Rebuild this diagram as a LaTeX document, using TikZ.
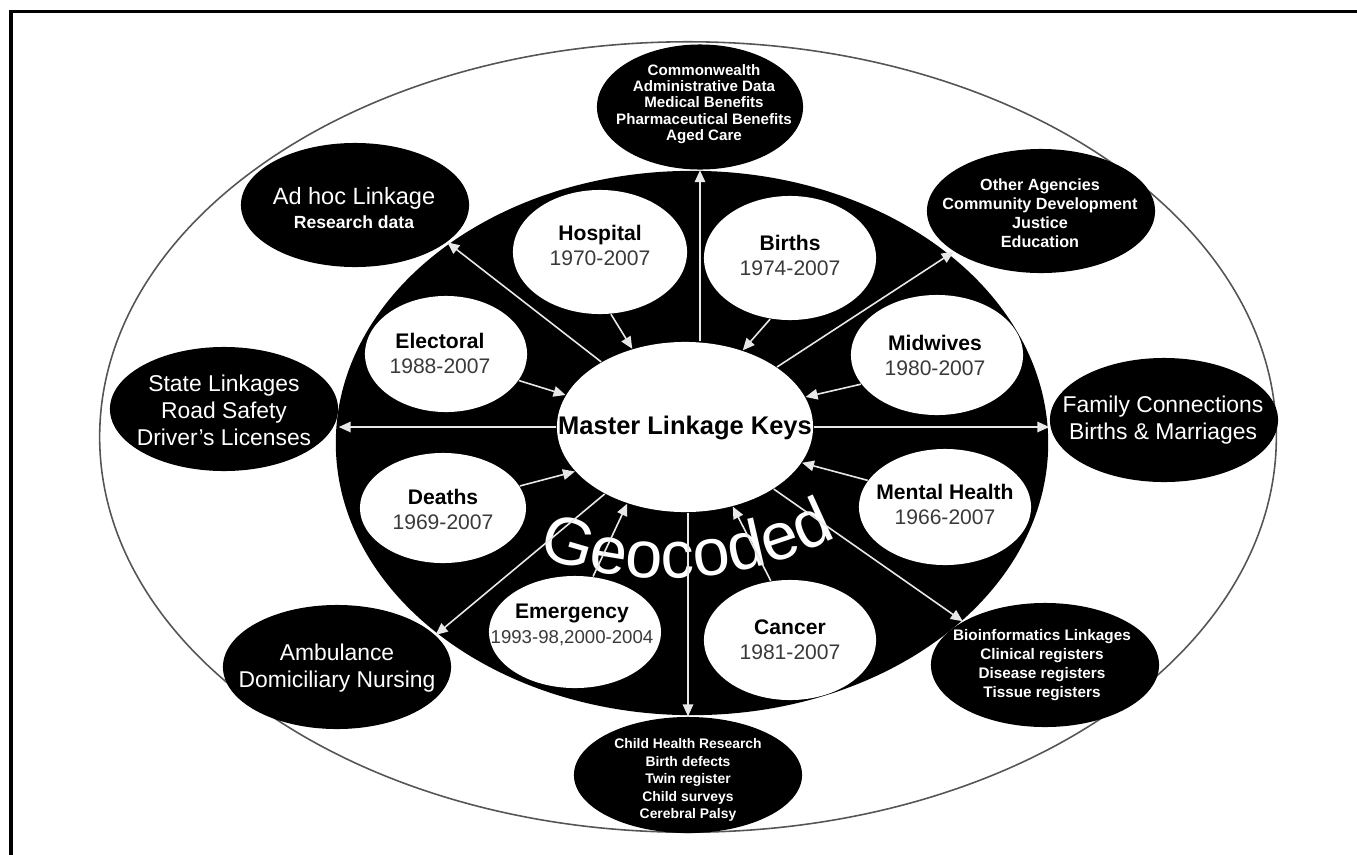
\documentclass[tikz,border=0pt]{standalone}
\usepackage{fontspec}
\setmainfont{Liberation Sans}
\usepackage{xcolor}
\usetikzlibrary{arrows.meta,positioning,calc,shapes.geometric,decorations.text}
\definecolor{yeargray}{HTML}{3A3A3A}
\definecolor{linkgray}{HTML}{E8E8E8}
\definecolor{ringgray}{HTML}{555555}

\begin{document}
\begin{tikzpicture}[x=0.01cm,y=-0.01cm,>=Latex,
  srcbox/.style={ellipse,fill=white,inner sep=0pt,minimum width=1.72cm,minimum height=1.2cm},
  dstbox/.style={ellipse,fill=black,inner sep=0pt,minimum width=2.28cm,minimum height=1.24cm},
  srctxt/.style={align=center,inner sep=0pt,font=\fontsize{6}{7.1}\selectfont},
  dsttxt/.style={align=center,inner sep=0pt,text=white},
  bigtxt/.style={dsttxt,font=\fontsize{6.5}{7.7}\selectfont},
  link/.style={draw=linkgray,line width=0.45pt,-{Triangle[length=3.4pt,width=3pt]}}]
\useasboundingbox (0,0) rectangle (1357,854);
\draw[line width=0.03cm] (11,860) -- (11,11) -- (1362,11);

\node[ellipse,draw=ringgray,line width=0.45pt,inner sep=0pt,minimum width=11.76cm,minimum height=7.9cm] (ring) at (688,437) {};
\node[ellipse,fill=black,inner sep=0pt,minimum width=7.12cm,minimum height=5.44cm] (hub) at (692,443) {};

\node[dstbox,minimum width=2.06cm,minimum height=1.25cm] (cw) at (700,107) {};
\node[dstbox] (adhoc) at (355,205) {};
\node[dstbox] (oa) at (1041,211) {};
\node[dstbox] (state) at (224,409) {};
\node[dstbox] (fam) at (1164,420) {};
\node[dstbox] (amb) at (337,667) {};
\node[dstbox,minimum height=1.16cm] (child) at (688,775) {};
\node[dstbox] (bio) at (1045,665) {};

\node[srcbox,minimum width=1.74cm,minimum height=1.24cm] (hosp) at (600,252) {};
\node[srcbox,minimum height=1.24cm] (births) at (790,258) {};
\node[srcbox,minimum width=1.62cm,minimum height=1.16cm] (elect) at (446,354) {};
\node[srcbox] (midw) at (937,355) {};
\node[srcbox,minimum width=1.66cm,minimum height=1.1cm] (deaths) at (443,508) {};
\node[srcbox,minimum height=1.16cm] (mental) at (945,507) {};
\node[srcbox,minimum height=1.12cm] (emerg) at (575,632) {};
\node[srcbox] (cancer) at (790,640) {};
\node[ellipse,fill=white,inner sep=0pt,minimum width=2.56cm,minimum height=1.7cm] (master) at (685,427) {};

\path[decorate,decoration={text along path,text align=center,
  text={|\fontsize{19}{19}\selectfont\color{white}|Geocoded}}]
  (667,207) ++(247:3.71cm) arc[start angle=247,end angle=300,radius=3.71cm];

\draw[link] (master.north -| cw) -- (cw.south);
\draw[link] (master) -- (adhoc.-22);
\draw[link] (master) -- (oa.205);
\draw[link] (master.west) -- (master.west -| state.east);
\draw[link] (master.east) -- (master.east -| fam.west);
\draw[link] (master) -- (amb.18);
\draw[link] (master.south -| child) -- (child.north);
\draw[link] (master) -- (bio.152);

\draw[link] (hosp.-80) -- (master.124);
\draw[link] (births.-108) -- (master.53);
\draw[link] (elect.-20) -- (master.165);
\draw[link] (midw.201) -- (master.14);
\draw[link] (deaths.16) -- (master.202);
\draw[link] (mental.161) -- (master.-17);
\draw[link] (emerg.72) -- (master.233);
\draw[link] (cancer.108) -- (master.-59);

\node[inner sep=0pt,font=\fontsize{7.25}{8}\selectfont\bfseries] (master-t) at (685,428) {Master Linkage Keys};

\node[srctxt] (hosp-t) at (600,245) {\textbf{Hospital}\\\textcolor{yeargray}{1970-2007}};
\node[srctxt] (births-t) at (790,255) {\textbf{Births}\\\textcolor{yeargray}{1974-2007}};
\node[srctxt] (elect-t) at (440,353) {\textbf{Electoral}\\\textcolor{yeargray}{1988-2007}};
\node[srctxt] (midw-t) at (935,355) {\textbf{Midwives}\\\textcolor{yeargray}{1980-2007}};
\node[srctxt] (deaths-t) at (443,509) {\textbf{Deaths}\\\textcolor{yeargray}{1969-2007}};
\node[srctxt] (mental-t) at (945,504) {\textbf{Mental Health}\\\textcolor{yeargray}{1966-2007}};
\node[srctxt] (emerg-t) at (572,625) {\textbf{Emergency}\\\textcolor{yeargray}{\fontsize{5.3}{7.1}\selectfont 1993-98,2000-2004}};
\node[srctxt] (cancer-t) at (790,640) {\textbf{Cancer}\\\textcolor{yeargray}{1981-2007}};

\node[dsttxt,font=\fontsize{4.3}{4.65}\selectfont\bfseries] (cw-t) at (704,104) {Commonwealth\\Administrative Data\\Medical Benefits\\Pharmaceutical Benefits\\Aged Care};
\node[dsttxt,font=\fontsize{6.7}{6.6}\selectfont] (adhoc-t) at (354,208) {Ad hoc Linkage\\\bfseries\fontsize{5}{6.6}\selectfont Research data};
\node[dsttxt,font=\fontsize{4.6}{5.4}\selectfont\bfseries] (oa-t) at (1040,213) {Other Agencies\\Community Development\\Justice\\Education};
\node[bigtxt] (state-t) at (224,410) {State Linkages\\Road Safety\\Driver’s Licenses};
\node[bigtxt] (fam-t) at (1163,420) {Family Connections\\Births \& Marriages};
\node[bigtxt] (amb-t) at (337,668) {Ambulance\\Domiciliary Nursing};
\node[dsttxt,font=\fontsize{3.95}{5}\selectfont\bfseries] (child-t) at (688,780) {Child Health Research\\Birth defects\\Twin register\\Child surveys\\Cerebral Palsy};
\node[dsttxt,font=\fontsize{4.35}{5.4}\selectfont\bfseries] (bio-t) at (1042,665) {Bioinformatics Linkages\\Clinical registers\\Disease registers\\Tissue registers};
\end{tikzpicture}
\end{document}
